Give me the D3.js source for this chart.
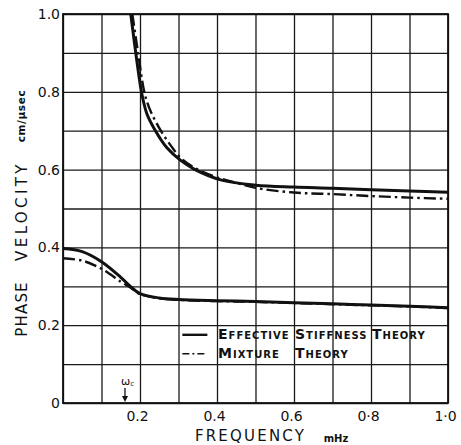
<!DOCTYPE html>
<html>
<head>
<meta charset="utf-8">
<script src="https://cdn.jsdelivr.net/npm/d3@7"></script>
<style>
  body { margin: 0; background: #fff; }
  svg { display: block; }
  text { font-family: "DejaVu Sans", sans-serif; fill: #111; }
</style>
</head>
<body>
<svg id="chart" width="461" height="445"></svg>
<script>
// values: frequency (mHz) vs phase velocity (cm/usec)
const effUpper = [[0.176, 1.0], [0.189, 0.9], [0.202, 0.81], [0.209, 0.775], [0.218, 0.743], [0.24, 0.7],
  [0.27, 0.656], [0.304, 0.625], [0.343, 0.6], [0.412, 0.573], [0.5, 0.56], [0.6, 0.555], [0.7, 0.552],
  [0.8, 0.548], [0.9, 0.545], [1.0, 0.542]];
const mixUpper = [[0.18, 1.0], [0.195, 0.9], [0.209, 0.81], [0.218, 0.775], [0.229, 0.747], [0.254, 0.7],
  [0.282, 0.659], [0.308, 0.628], [0.345, 0.603], [0.4, 0.58], [0.45, 0.566], [0.5, 0.553], [0.6, 0.541],
  [0.7, 0.537], [0.8, 0.532], [0.9, 0.528], [1.0, 0.525]];
const effLower = [[0, 0.397], [0.05, 0.389], [0.1, 0.363], [0.15, 0.323], [0.175, 0.3], [0.2, 0.281],
  [0.25, 0.27], [0.3, 0.266], [0.4, 0.263], [0.5, 0.261], [0.6, 0.258], [0.7, 0.255], [0.8, 0.252],
  [0.9, 0.249], [1.0, 0.245]];
const mixLower = [[0, 0.372], [0.05, 0.366], [0.1, 0.345], [0.15, 0.312], [0.175, 0.297], [0.2, 0.28],
  [0.25, 0.269], [0.3, 0.265], [0.4, 0.262], [0.5, 0.26], [0.6, 0.257], [0.7, 0.254], [0.8, 0.251],
  [0.9, 0.248], [1.0, 0.244]];

const xTickValues = [0.2, 0.4, 0.6, 0.8, 1.0];
const xTickLabels = ["0.2", "0.4", "0.6", "0\u00b78", "1\u00b70"];
const yTickValues = [0, 0.2, 0.4, 0.6, 0.8, 1.0];
const yTickLabels = ["0", "0.2", "0.4", "0.6", "0.8", "1.0"];
const omegaC = 0.161;

const legendRows = [
  { dash: null, words: ["Effective", "Stiffness", "Theory"], at: [0.4, 0.6, 0.8] },
  { dash: "7,3,2,3", words: ["Mixture", "Theory"], at: [0.4, 0.6] }
];

const margin = { top: 14, right: 13, bottom: 42, left: 63 };
const width = 461 - margin.left - margin.right;
const height = 445 - margin.top - margin.bottom;

const svg = d3.select("#chart");
const g = svg.append("g").attr("transform", `translate(${margin.left},${margin.top})`);

const x = d3.scaleLinear().domain([0, 1]).range([0, width]);
const y = d3.scaleLinear().domain([0, 1]).range([height, 0]);

// grid
g.append("g")
  .attr("transform", `translate(0,${height})`)
  .call(d3.axisBottom(x).ticks(10).tickSize(-height).tickFormat(""))
  .call((s) => s.select(".domain").remove())
  .selectAll("line").attr("stroke", "#1a1a1a").attr("stroke-width", 1.3);
g.append("g")
  .call(d3.axisLeft(y).ticks(10).tickSize(-width).tickFormat(""))
  .call((s) => s.select(".domain").remove())
  .selectAll("line").attr("stroke", "#1a1a1a").attr("stroke-width", 1.3);

g.append("rect")
  .attr("width", width).attr("height", height)
  .attr("fill", "none").attr("stroke", "#111").attr("stroke-width", 1.8);

// tick labels
const xAxis = g.append("g")
  .attr("transform", `translate(0,${height})`)
  .call(d3.axisBottom(x).tickValues(xTickValues).tickSize(0).tickPadding(8)
    .tickFormat((d, i) => xTickLabels[i]));
xAxis.select(".domain").remove();
xAxis.selectAll("text").attr("font-size", 14).attr("dx", -3)
  .style("font-family", "DejaVu Sans").attr("fill", "#111");

const yAxis = g.append("g")
  .call(d3.axisLeft(y).tickValues(yTickValues).tickSize(0).tickPadding(3)
    .tickFormat((d, i) => yTickLabels[i]));
yAxis.select(".domain").remove();
yAxis.selectAll("text").attr("font-size", 14)
  .style("font-family", "DejaVu Sans").attr("fill", "#111");

// curves
g.append("clipPath").attr("id", "plotClip")
  .append("rect").attr("width", width).attr("height", height);

const line = d3.line()
  .x((d) => x(d[0]))
  .y((d) => y(d[1]))
  .curve(d3.curveCatmullRom.alpha(0.5));

const curves = g.append("g").attr("clip-path", "url(#plotClip)");
[mixUpper, mixLower].forEach((data) => {
  curves.append("path")
    .attr("d", line(data))
    .attr("fill", "none").attr("stroke", "#111")
    .attr("stroke-width", 2.4)
    .attr("stroke-dasharray", "12,4,2.5,4");
});
[effUpper, effLower].forEach((data) => {
  curves.append("path")
    .attr("d", line(data))
    .attr("fill", "none").attr("stroke", "#111")
    .attr("stroke-width", 3);
});

// omega_c marker
const wx = x(omegaC);
g.append("line")
  .attr("x1", wx).attr("x2", wx)
  .attr("y1", height - 15).attr("y2", height - 5)
  .attr("stroke", "#111").attr("stroke-width", 1.3);
g.append("path")
  .attr("d", `M${wx - 3},${height - 7} L${wx + 3},${height - 7} L${wx},${height - 1} Z`)
  .attr("fill", "#111");
const wt = g.append("text")
  .attr("x", wx - 4).attr("y", height - 18)
  .attr("font-size", 11);
wt.append("tspan").text("\u03c9");
wt.append("tspan").attr("font-size", 7).attr("dy", 1).text("c");

// legend
legendRows.forEach((row, i) => {
  const ly = y(0.165) + i * 19;
  g.append("line")
    .attr("x1", x(0.31)).attr("x2", x(0.375))
    .attr("y1", ly - 4).attr("y2", ly - 4)
    .attr("stroke", "#111")
    .attr("stroke-width", row.dash ? 1.6 : 2.4)
    .attr("stroke-dasharray", row.dash);
  row.words.forEach((w, j) => {
    const t = g.append("text")
      .attr("x", x(row.at[j]) + 1)
      .attr("y", ly)
      .attr("font-weight", "bold")
      .attr("letter-spacing", 1);
    t.append("tspan").attr("font-size", 14).text(w[0]);
    t.append("tspan").attr("font-size", 10).text(w.slice(1).toUpperCase());
  });
});

// axis titles
svg.append("text")
  .attr("x", margin.left + x(0.5) - 5)
  .attr("y", 441)
  .attr("text-anchor", "middle")
  .attr("font-size", 15)
  .attr("letter-spacing", 2.2)
  .text("FREQUENCY");
svg.append("text")
  .attr("x", 336)
  .attr("y", 442)
  .attr("text-anchor", "middle")
  .attr("font-size", 10)
  .attr("font-weight", "bold")
  .text("mHz");

const yTitle = [
  { text: "PHASE", cy: 309, size: 15, spacing: 1.2, weight: "normal" },
  { text: "VELOCITY", cy: 211, size: 15, spacing: 3.4, weight: "normal" },
  { text: "cm/\u03bcsec", cy: 116, size: 10.5, spacing: 0.6, weight: "bold" }
];
yTitle.forEach((t) => {
  svg.append("text")
    .attr("transform", `translate(${t.size > 12 ? 27 : 25},${t.cy}) rotate(-90)`)
    .attr("text-anchor", "middle")
    .attr("font-size", t.size)
    .attr("font-weight", t.weight)
    .attr("letter-spacing", t.spacing)
    .text(t.text);
});
</script>
</body>
</html>
